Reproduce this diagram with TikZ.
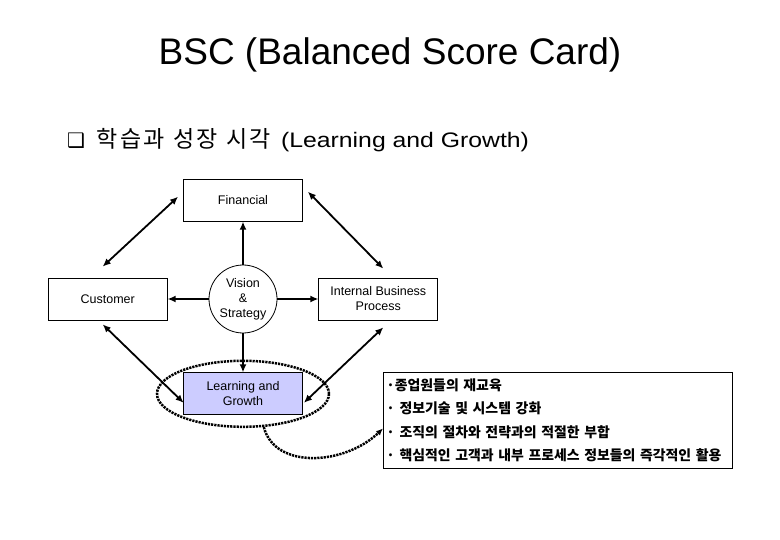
\documentclass[tikz,border=0pt]{standalone}
\usepackage{fontspec}
\setmainfont{Liberation Sans}
\newfontfamily\krfont{Noto Sans CJK KR}
\newfontfamily\krwide[LetterSpace=12]{Noto Sans CJK KR}
\newfontfamily\widefont[FakeStretch=1.18]{Liberation Sans}
\newfontfamily\symfont{DejaVu Sans}
\usetikzlibrary{arrows.meta,positioning,shapes.geometric}
\definecolor{lgfill}{RGB}{204,204,255}
\tikzset{
	card/.style={draw, line width=0.8pt, minimum width=119pt, minimum height=42pt, align=center, font=\fontsize{12.5}{15}\selectfont},
	link/.style={line width=1.8pt, {Latex[length=8pt,width=7pt]}-{Latex[length=8pt,width=7pt]}},
	push/.style={line width=1.8pt, -{Latex[length=8pt,width=7pt]}},
	dots/.style={line width=2.5pt, dash pattern=on 2.2pt off 1pt},
}

\begin{document}
\begin{tikzpicture}[x=1pt, y=-1pt]
	\useasboundingbox (0,0) rectangle (780,540);
	% heading
	\node[anchor=base, inner sep=0pt, font=\fontsize{37}{40}\selectfont] (title) at (390,65) {BSC (Balanced Score Card)};
	\node[anchor=base west, inner sep=0pt] (sub) at (67,148) {{\symfont\fontsize{20}{24}\selectfont ❑}\hspace{11pt}{\krwide\fontsize{23}{26}\selectfont 학습과 성장 시각}\hspace{10pt}{\widefont\fontsize{21}{26}\selectfont (Learning and Growth)}};
	% perspectives
	\node[circle, draw, line width=0.8pt, minimum size=68pt, inner sep=0pt, align=center, font=\fontsize{12.5}{15}\selectfont] (vis) at (243,299) {Vision\\\&\\Strategy};
	\node[card, above=43pt of vis] (fin) {Financial};
	\node[card, left=41pt of vis] (cust) {Customer};
	\node[card, right=41pt of vis] (ibp) {Internal Business\\Process};
	\node[card, fill=lgfill, below=39pt of vis] (lg) {Learning and\\Growth};
	\node[ellipse, draw, dots, minimum width=172pt, minimum height=66pt] (ring) at (lg) {};
	% links
	\draw[push] (vis.north) -- (fin.south);
	\draw[push] (vis.west) -- (cust.east);
	\draw[push] (vis.east) -- (ibp.west);
	\draw[push] (vis.south) -- (lg.north);
	\draw[link] ([xshift=-5pt,yshift=11pt]cust.north) -- ([xshift=-5pt,yshift=3.5pt]fin.west);
	\draw[link] ([xshift=5pt,yshift=8.5pt]fin.east) -- ([xshift=5pt,yshift=9pt]ibp.north);
	\draw[link] ([xshift=-5pt,yshift=-4pt]cust.south) -- ([xshift=0.5pt,yshift=-9pt]lg.west);
	\draw[link] ([xshift=5pt,yshift=-7pt]ibp.south) -- ([xshift=1pt,yshift=-9pt]lg.east);
	% measures
	\node[draw, line width=0.8pt, anchor=north west, align=left, text width=343pt, minimum height=96pt, inner sep=3pt, font=\krfont\bfseries\fontsize{13.9}{23.3}\selectfont] (gain) at (383,372) {·종업원들의 재교육\\· 정보기술 및 시스템 강화\\· 조직의 절차와 전략과의 적절한 부합\\· 핵심적인 고객과 내부 프로세스 정보들의 즉각적인 활용};
	\draw[dots, -{Latex[length=7pt,width=6pt]}] (ring.302) .. controls (275,470) and (345,465) .. ([yshift=-8pt]gain.west);
\end{tikzpicture}
\end{document}
